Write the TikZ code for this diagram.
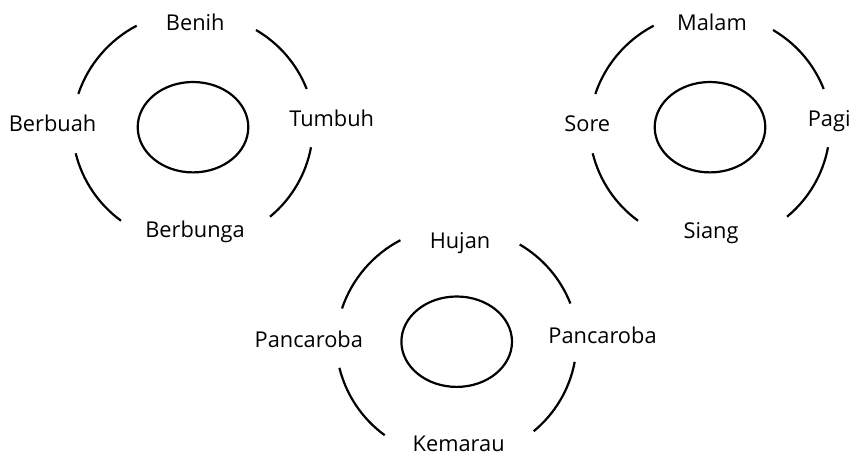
\documentclass[tikz,border=0pt]{standalone}
\usepackage{fontspec}
\setmainfont{Open Sans}
\usetikzlibrary{shapes.geometric,calc}
\newcommand\cyclediag[2]{%
  \coordinate (#1c) at #2;
  \node[hub] (#1hub) at (#1c) {};
  \coordinate (#1tls) at ($(#1c)+(-56.3,-101.5)$);
  \coordinate (#1tle) at ($(#1c)+(-114.7,-33.2)$);
  \coordinate (#1trs) at ($(#1c)+(63,-97.2)$);
  \coordinate (#1tre) at ($(#1c)+(113.7,-38.2)$);
  \coordinate (#1brs) at ($(#1c)+(118,20.1)$);
  \coordinate (#1bre) at ($(#1c)+(77,89.5)$);
  \coordinate (#1bls) at ($(#1c)+(-117.3,26.1)$);
  \coordinate (#1ble) at ($(#1c)+(-72,93.5)$);
  \draw[ring] (#1tls) to[bend right=22] (#1tle);
  \draw[ring] (#1trs) to[bend left=19] (#1tre);
  \draw[ring] (#1brs) to[bend left=20] (#1bre);
  \draw[ring] (#1bls) to[bend right=20] (#1ble);
}
\begin{document}
\begin{tikzpicture}[x=1pt,y=-1pt,
  lbl/.style={font=\fontsize{21.8}{26}\selectfont, anchor=base, inner sep=0pt},
  ring/.style={line width=2.2pt, looseness=0.88},
  hub/.style={ellipse, draw, line width=2.2pt, minimum width=110.6pt, minimum height=90.4pt, inner sep=0pt}]
\useasboundingbox (0,0) rectangle (853,455);
\cyclediag{a}{(193,127.2)}
\cyclediag{b}{(710,127.2)}
\cyclediag{c}{(456.7,341.7)}
\node[lbl] (benih) at (195.3,30) {Benih};
\node[lbl] (tumbuh) at (331.7,126) {Tumbuh};
\node[lbl] (berbuah) at (52.5,131.7) {Berbuah};
\node[lbl] (berbunga) at (195,237) {Berbunga};
\node[lbl] (malam) at (712,30.7) {Malam};
\node[lbl] (pagi) at (829.2,126) {Pagi};
\node[lbl] (sore) at (587.3,131.7) {Sore};
\node[lbl] (siang) at (711,238.3) {Siang};
\node[lbl] (hujan) at (460,248.7) {Hujan};
\node[lbl] (pancL) at (308.8,347.3) {Pancaroba};
\node[lbl] (pancR) at (602.5,343.7) {Pancaroba};
\node[lbl, text depth=0pt] (kemarau) at (458.7,451.2) {Kemarau};
\end{tikzpicture}
\end{document}
